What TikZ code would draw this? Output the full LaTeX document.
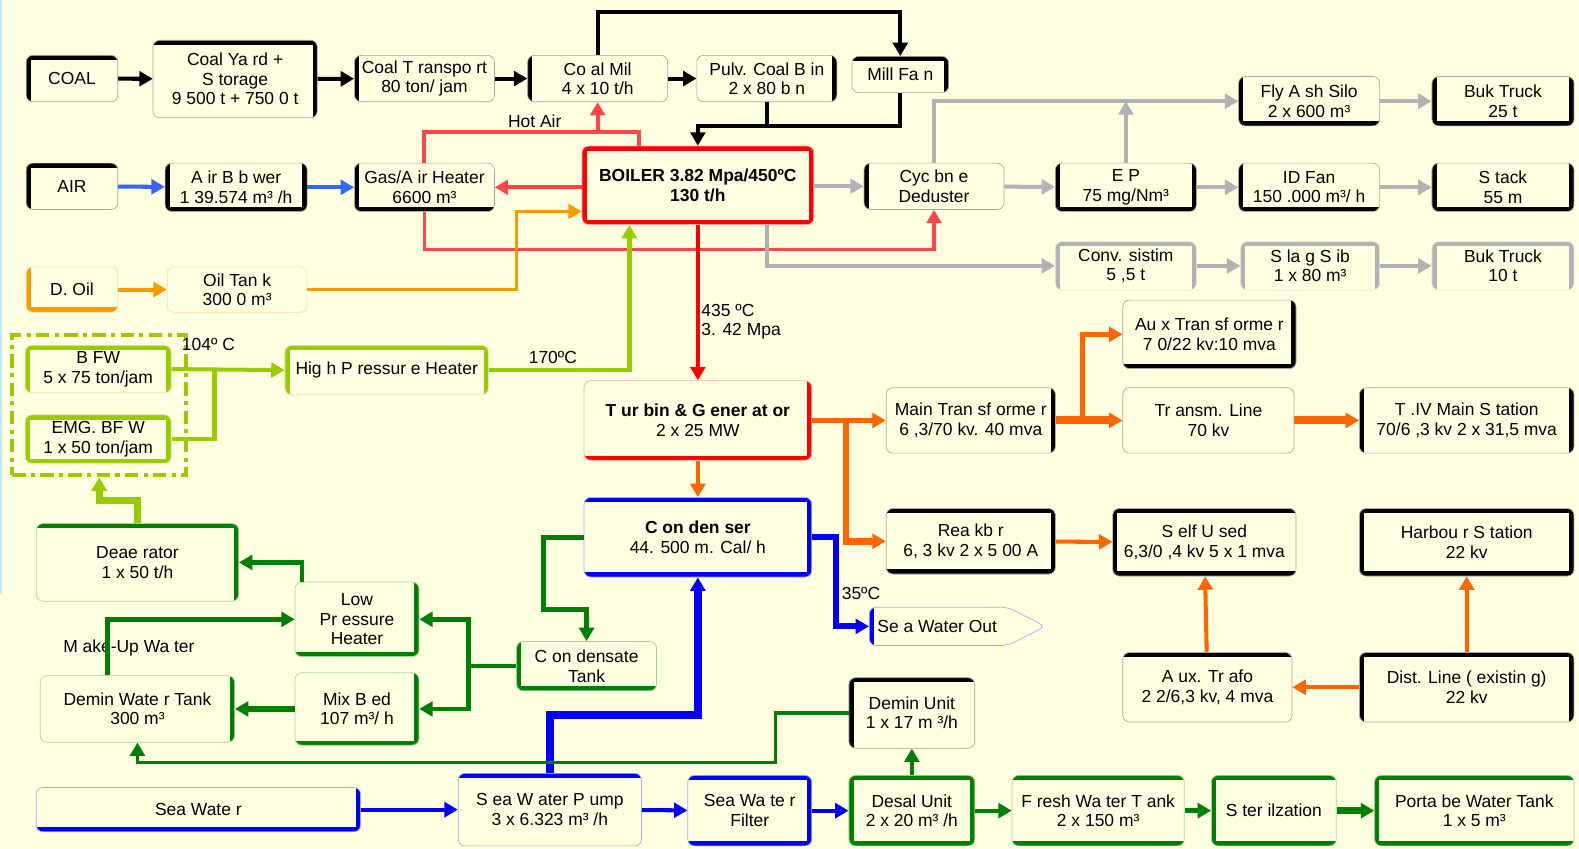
\documentclass[tikz,border=0pt]{standalone}
\usepackage{fontspec}
\setmainfont{Liberation Sans}
\usetikzlibrary{arrows.meta,shapes.symbols}

\definecolor{paper}{RGB}{255,255,225}
\definecolor{airblue}{RGB}{51,102,255}
\definecolor{seablue}{RGB}{0,0,255}
\definecolor{hotred}{RGB}{255,70,70}
\definecolor{steamred}{RGB}{255,0,0}
\definecolor{oilorange}{RGB}{255,153,0}
\definecolor{elecorange}{RGB}{255,102,0}
\definecolor{feedgreen}{RGB}{153,204,0}
\definecolor{watergreen}{RGB}{0,128,0}
\definecolor{ashgray}{RGB}{178,178,178}

\newdimen\px \px=0.75pt

\tikzset{
  box/.style={draw=#1!35, line width=0.5pt, fill=paper, rounded corners=5pt, align=center, inner sep=1pt, font=\fontsize{13}{14.5}\selectfont},
  box/.default=black,
  sz/.style 2 args={minimum width=#1*\px, minimum height=#2*\px},
  rim/.style 2 args={path picture={
      \coordinate (L1) at (path picture bounding box.north west);
      \coordinate (L2) at (path picture bounding box.south west);
      \coordinate (R1) at (path picture bounding box.north east);
      \coordinate (R2) at (path picture bounding box.south east);
      \coordinate (T1) at (path picture bounding box.north west);
      \coordinate (T2) at (path picture bounding box.north east);
      \coordinate (B1) at (path picture bounding box.south west);
      \coordinate (B2) at (path picture bounding box.south east);
      \foreach \s in {#2}{\draw[#1, line width=7pt] (\s1) -- (\s2);}}},
  flow/.style={draw=#1, line width=3pt, -{Triangle[width=11pt,length=10pt]}},
  pipe/.style={draw=#1, line width=3pt},
  lbl/.style={font=\fontsize{13}{14.5}\selectfont, inner sep=1pt},
}

\begin{document}
\begin{tikzpicture}[x=0.75pt,y=0.75pt,yscale=-1,xscale=1]
%Background
\fill[paper] (0,0) rectangle (1568,843);
\fill[cyan!25] (0,0) rectangle (2,590);
\useasboundingbox (0,0) rectangle (1568,843);

%Row: coal
\node[box, rim={black}{L,T}, sz={91}{46}] (coal) at (71.5,78) {COAL};
\node[box, rim={black}{T,R}, sz={163}{77}] (yard) at (233.5,78.5) {Coal Ya rd +\\S torage\\9 500 t + 750 0 t};
\node[box, rim={black}{L}, sz={139}{46}] (transp) at (421.5,78) {Coal T ranspo rt\\80 ton/ jam};
\node[box, rim={black}{L}, sz={139}{46}] (mill) at (593.5,78) {Co al Mil\\4 x 10 t/h};
\node[box, rim={black}{R}, sz={139}{46}] (bin) at (761.5,78) {Pulv. Coal B in\\2 x 80 b n};
\node[box, rim={black}{T,R}, sz={96}{36}] (fan) at (894,74) {Mill Fa n};
\node[box, rim={black}{L,B}, sz={140}{49}] (flyash) at (1300,100.5) {Fly A sh Silo\\2 x 600 m³};
\node[box, rim={black}{L,R,B}, sz={141}{49}] (truck1) at (1492.5,100.5) {Buk Truck\\25 t};

%Row: air and flue gas
\node[box, rim={black}{L,T}, sz={91}{46}] (air) at (71.5,185) {AIR};
\node[box, rim={black}{L,R,B}, sz={141}{48}] (blower) at (234.5,186) {A ir B b wer\\1 39.574 m³ /h};
\node[box, rim={black}{L,B}, sz={139}{48}] (gah) at (421.5,186) {Gas/A ir Heater\\6600 m³};
\node[box=red, rim={steamred}{L,R,T,B}, sz={230}{78}] (boiler) at (693,184) {\textbf{BOILER 3.82 Mpa/450ºC}\\\textbf{130 t/h}};
\node[box, rim={black}{L}, sz={139}{46}] (cyclone) at (927.5,185) {Cyc bn e\\Deduster};
\node[box, rim={black}{L,R,B}, sz={140}{48}] (ep) at (1118,186) {E P\\75 mg/Nm³};
\node[box, rim={black}{L,B}, sz={140}{48}] (idfan) at (1300,186) {ID Fan\\150 .000 m³/ h};
\node[box, rim={black}{L,R,B}, sz={141}{48}] (stack) at (1492.5,186) {S tack\\55 m};

%Row: oil and slag
\node[box=oilorange, rim={oilorange}{L,B}, sz={91}{45}] (doil) at (71.5,287.5) {D. Oil};
\node[box=oilorange, sz={139}{45}] (oiltank) at (235.5,287.5) {Oil Tan k\\300 0 m³};
\node[box=ashgray, rim={ashgray}{L,T,R}, sz={140}{48}] (conv) at (1118,264) {Conv. sistim\\5 ,5 t};
\node[box=ashgray, rim={ashgray}{L,T,R}, sz={138}{48}] (slag) at (1301,264) {S la g S ib\\1 x 80 m³};
\node[box=ashgray, rim={ashgray}{L,T,R}, sz={141}{48}] (truck2) at (1492.5,264) {Buk Truck\\10 t};

%Feed water
\node[draw=feedgreen, line width=3pt, dash pattern=on 10pt off 4pt on 3pt off 4pt, sz={173}{139}] (feed) at (98.5,402.5) {};
\node[box=feedgreen, rim={feedgreen}{L,R,T}, sz={145}{47}] (bfw) at (97.5,366.5) {B FW\\5 x 75 ton/jam};
\node[box=feedgreen, rim={feedgreen}{L,R,T,B}, sz={145}{48}] (emg) at (97.5,436) {EMG. BF W\\1 x 50 ton/jam};
\node[box=feedgreen, rim={feedgreen}{L,R,T}, sz={202}{49}] (hph) at (384,367.5) {Hig h P ressur e Heater};

%Turbine and electrical
\node[box=red, rim={steamred}{R,B}, sz={226}{79}] (turbin) at (693,417.5) {\textbf{T ur bin \& G ener at or}\\2 x 25 MW};
\node[box=seablue, rim={seablue}{T,R,B}, sz={226}{79}] (condenser) at (693,533.5) {\textbf{C on den ser}\\44. 500 m. Cal/ h};
\node[box, rim={black}{R}, sz={168}{65}] (maintr) at (964,417.5) {Main Tran sf orme r\\6 ,3/70 kv. 40 mva};
\node[box, rim={black}{T,B,R}, sz={168}{65}] (reaktor) at (964,537.5) {Rea kb r\\6, 3 kv 2 x 5 00 A};
\node[box, rim={black}{R,B}, sz={172}{68}] (auxtr) at (1201,332) {Au x Tran sf orme r\\7 0/22 kv:10 mva};
\node[box, sz={170}{65}] (transm) at (1200,417.5) {Tr ansm. Line\\70 kv};
\node[box, rim={black}{L,R}, sz={213}{65}] (tiv) at (1456.5,417.5) {T .IV Main S tation\\70/6 ,3 kv 2 x 31,5 mva};
\node[box, rim={black}{T,B,L}, sz={182}{67}] (selfused) at (1196,538.5) {S elf U sed\\6,3/0 ,4 kv 5 x 1 mva};
\node[box, rim={black}{L,R,T,B}, sz={213}{67}] (harbour) at (1456.5,538.5) {Harbou r S tation\\22 kv};
\node[box, rim={black}{T}, sz={168}{69}] (auxtrafo) at (1199,682.5) {A ux. Tr afo\\2 2/6,3 kv, 4 mva};
\node[box, rim={black}{T,L,R}, sz={213}{69}] (distline) at (1456.5,682.5) {Dist. Line ( existin g)\\22 kv};
\node[box=seablue, rim={seablue}{L}, shape=signal, signal to=east, signal pointer angle=54, inner xsep=0pt, sz={172}{38}] (swout) at (932,622) {\hspace{6pt}Se a Water Out\hspace{8pt}};

%Water cycle
\node[box=watergreen, rim={watergreen}{T,R}, sz={201}{77}] (deaerator) at (136.5,558.5) {Deae rator\\1 x 50 t/h};
\node[box=watergreen, rim={watergreen}{R,B}, sz={123}{74}] (lph) at (354.5,615) {Low\\Pr essure\\Heater};
\node[box=watergreen, rim={watergreen}{B,L}, sz={139}{49}] (condtank) at (582.5,661.5) {C on densate\\Tank};
\node[box=watergreen, rim={watergreen}{R}, sz={193}{66}] (demintank) at (136.5,704) {Demin Wate r Tank\\300 m³};
\node[box=watergreen, rim={watergreen}{R,B}, sz={123}{72}] (mixbed) at (354.5,704) {Mix B ed\\107 m³/ h};
\node[box, rim={black}{L,T}, sz={125}{70}] (deminunit) at (905.5,708) {Demin Unit\\1 x 17 m ³/h};
\node[box=seablue, rim={seablue}{B,R}, sz={322}{44}] (seawater) at (197,804) {Sea Wate r};
\node[box=seablue, rim={seablue}{T}, sz={182}{72}] (pump) at (546,804) {S ea W ater P ump\\3 x 6.323 m³ /h};
\node[box=seablue, rim={seablue}{T,B,R}, sz={123}{70}] (filter) at (744.5,805) {Sea Wa te r\\Filter};
\node[box=watergreen, rim={watergreen}{L,R,T,B}, sz={125}{70}] (desal) at (905.5,805) {Desal Unit\\2 x 20 m³ /h};
\node[box=watergreen, rim={watergreen}{T,B}, sz={171}{70}] (fresh) at (1090.5,805) {F resh Wa ter T ank\\2 x 150 m³};
\node[box=watergreen, rim={watergreen}{T,B,L}, sz={124}{70}] (steril) at (1265,805) {S ter ilzation};
\node[box=watergreen, rim={watergreen}{T,B,L}, sz={198}{70}] (portable) at (1464,805) {Porta be Water Tank\\1 x 5 m³};

%Labels
\node[lbl] (hotair) at (531,120) {Hot Air};
\node[lbl, anchor=west] (steamt) at (695,308) {435 ºC};
\node[lbl, anchor=west] (steamp) at (695,329) {3. 42 Mpa};
\node[lbl] (t104) at (207,342) {104º C};
\node[lbl] (t170) at (549,355) {170ºC};
\node[lbl] (t35) at (855,589) {35ºC};
\node[lbl] (makeup) at (128,643) {M ake-Up Wa ter};

%Bus coordinates
\coordinate (coalbus) at (0,12);
\coordinate (pcbus) at (0,125);
\coordinate (hotbus) at (635,131);
\coordinate (fluebus) at (0,248);
\coordinate (oilx) at (513,210);
\coordinate (ashx) at (762,0);
\coordinate (bfwjoin) at (213,0);
\coordinate (hpx) at (625,0);
\coordinate (dearise) at (0,497);
\coordinate (genx) at (840,0);
\coordinate (auxx) at (1075,0);
\coordinate (outx) at (830,0);
\coordinate (cwbus) at (0,710);
\coordinate (dwx) at (770,757);
\coordinate (ctx) at (540,605);
\coordinate (cbus) at (465,0);
\coordinate (mux) at (107,0);
\coordinate (lpx) at (300,0);

%Coal
\draw[flow=black] (coal) -- (yard);
\draw[flow=black] (yard) -- (transp);
\draw[flow=black] (transp) -- (mill);
\draw[flow=black] (mill) -- (bin);
\draw[flow=black] (mill.north) |- (fan.north |- coalbus) -- (fan.north);
\draw[pipe=black] (bin.south) -- (bin.south |- pcbus);
\draw[flow=black] (fan.south) |- (boiler.north |- pcbus) -- (boiler.north);

%Air and hot gas
\draw[flow=airblue] (air) -- (blower);
\draw[flow=airblue] (blower) -- (gah);
\draw[flow=hotred] (boiler.west |- gah.east) -- (gah.east);
\draw[pipe=hotred] (gah.north) |- (hotbus) -- (hotbus |- boiler.north);
\draw[flow=hotred] (mill.south |- hotbus) -- (mill.south);
\draw[flow=hotred, line width=2.5pt] (gah.south) |- (cyclone.south |- fluebus) -- (cyclone.south);

%Oil
\draw[flow=oilorange] (doil) -- (oiltank);
\draw[flow=oilorange, line width=2.5pt] (oiltank.east) -| (oilx) -- (oilx -| boiler.west);

%Ash
\draw[flow=ashgray] (boiler.east |- cyclone.west) -- (cyclone.west);
\draw[flow=ashgray] (cyclone) -- (ep);
\draw[flow=ashgray] (ep) -- (idfan);
\draw[flow=ashgray] (idfan) -- (stack);
\draw[flow=ashgray] (cyclone.north) |- (flyash.west);
\draw[flow=ashgray] (ep.north) -- (ep.north |- flyash.west);
\draw[flow=ashgray] (flyash) -- (truck1);
\draw[flow=ashgray] (ashx |- boiler.south) |- (conv.west);
\draw[flow=ashgray] (conv) -- (slag);
\draw[flow=ashgray] (slag) -- (truck2);

%Feed water
\draw[flow=feedgreen] (bfw.east) -- (hph.west);
\draw[pipe=feedgreen] (emg.east) -| (bfwjoin |- bfw.east);
\draw[flow=feedgreen, line width=3.5pt] (hph.east) -| (hpx |- boiler.south);
\draw[flow=feedgreen, line width=5pt] (deaerator.north) |- (feed.south |- dearise) -- (feed.south);

%Steam and power
\draw[flow=steamred] (boiler.south) -- (turbin.north);
\draw[flow=elecorange] (turbin.south) -- (condenser.north);
\draw[flow=elecorange, line width=4pt] (turbin.east) -- (maintr.west);
\draw[flow=elecorange, line width=5pt] (genx |- maintr.west) |- (reaktor.west);
\draw[flow=elecorange, line width=6pt] (maintr.east) -- (transm.west);
\draw[flow=elecorange, line width=4pt] (auxx |- transm.west) |- (auxtr.west);
\draw[flow=elecorange, line width=6pt] (transm) -- (tiv);
\draw[flow=elecorange] (reaktor) -- (selfused);
\draw[flow=elecorange] (auxtrafo) -- (selfused);
\draw[flow=elecorange] (distline) -- (harbour);
\draw[flow=elecorange] (distline) -- (auxtrafo);

%Sea water
\draw[flow=seablue, line width=4.5pt] (condenser.east) -| (outx |- swout.west) -- (swout.west);
\draw[flow=seablue] (seawater) -- (pump);
\draw[flow=seablue] (pump) -- (filter);
\draw[flow=seablue] (filter) -- (desal);
\draw[flow=seablue, line width=6pt] (pump.north) |- (condenser.south |- cwbus) -- (condenser.south);

%Fresh water
\draw[flow=watergreen] (desal) -- (fresh);
\draw[flow=watergreen, line width=4pt] (fresh) -- (steril);
\draw[flow=watergreen, line width=5pt] (steril) -- (portable);
\draw[flow=watergreen] (desal) -- (deminunit);
\draw[flow=watergreen, line width=2.5pt] (deminunit.west) -| (dwx) -| (demintank.south);
\draw[flow=watergreen, line width=3.5pt] (condenser.west) -| (ctx) -| (condtank.north);
\draw[pipe=watergreen, line width=3.5pt] (condtank.west) -- (cbus |- condtank.west);
\draw[flow=watergreen, line width=3.5pt] (cbus |- condtank.west) |- (lph.east);
\draw[flow=watergreen, line width=3.5pt] (cbus |- condtank.west) |- (mixbed.east);
\draw[flow=watergreen, line width=4pt] (mixbed) -- (demintank);
\draw[flow=watergreen, line width=3.5pt] (mux |- demintank.north) |- (lph.west);
\draw[flow=watergreen, line width=3.5pt] (lpx |- lph.north) |- (deaerator.east);

\end{tikzpicture}
\end{document}
